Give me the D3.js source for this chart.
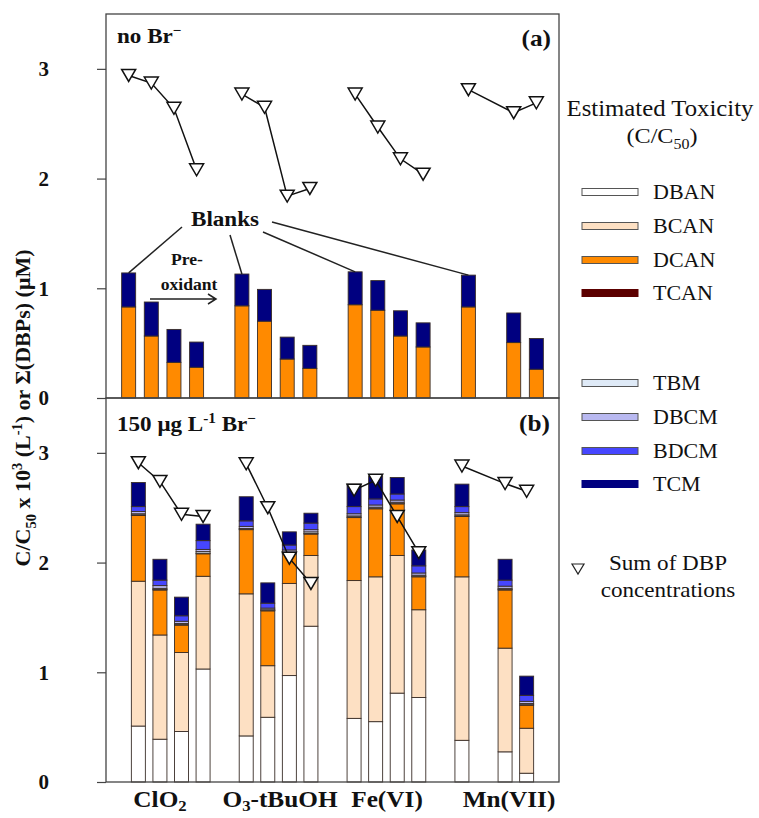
<!DOCTYPE html>
<html>
<head>
<meta charset="utf-8">
<script src="https://cdn.jsdelivr.net/npm/d3@7"></script>
<style>
  body { margin: 0; background: #fff; }
  text { font-family: "Liberation Serif", "Times New Roman", serif; fill: #111; }
</style>
</head>
<body>
<svg id="chart" width="759" height="818"></svg>
<script>
// ---- data ----
const groups = ["ClO2", "O3-tBuOH", "Fe(VI)", "Mn(VII)"];
// slot of each bar along the x axis (4 per group, one empty slot between groups;
// Mn(VII) has no second sample)
const slots = [0, 1, 2, 3, 5, 6, 7, 8, 10, 11, 12, 13, 15, 17, 18];
const blankIdx = [0, 4, 8, 12];

const species = ["DBAN", "BCAN", "DCAN", "TCAN", "TBM", "DBCM", "BDCM", "TCM"];
const speciesColor = ["#ffffff", "#fde0c3", "#ff8a00", "#5c0000", "#dfeaf7", "#b9b9f1", "#4646ff", "#000080"];

// (a) no Br-
const aDCAN = [0.83, 0.565, 0.325, 0.28, 0.84, 0.70, 0.355, 0.27, 0.85, 0.80, 0.565, 0.465, 0.83, 0.505, 0.262];
const aTCM  = [0.31, 0.31, 0.30, 0.23, 0.29, 0.29, 0.20, 0.21, 0.30, 0.27, 0.23, 0.22, 0.29, 0.27, 0.28];
const aSum  = [2.94, 2.87, 2.64, 2.08, 2.77, 2.65, 1.84, 1.91, 2.77, 2.47, 2.18, 2.04, 2.81, 2.60, 2.69];

// (b) 150 ug/L Br-
const bDBAN = [0.51, 0.39, 0.46, 1.03, 0.42, 0.59, 0.97, 1.42, 0.58, 0.55, 0.81, 0.77, 0.38, 0.275, 0.08];
const bBCAN = [1.32, 0.95, 0.72, 0.845, 1.295, 0.47, 0.84, 0.645, 1.256, 1.32, 1.255, 0.80, 1.49, 0.945, 0.41];
const bDCAN = [0.60, 0.41, 0.25, 0.205, 0.585, 0.50, 0.27, 0.195, 0.574, 0.62, 0.47, 0.30, 0.55, 0.53, 0.21];
const bTCAN = [0.005, 0.005, 0.005, 0.005, 0.005, 0.005, 0.005, 0.005, 0.005, 0.005, 0.005, 0.005, 0.005, 0.005, 0.005];
const bTBM  = [0.01, 0.01, 0.01, 0.015, 0.005, 0.005, 0.01, 0.015, 0.01, 0.01, 0.01, 0.01, 0.01, 0.01, 0.01];
const bDBCM = [0.02, 0.025, 0.02, 0.02, 0.02, 0.015, 0.02, 0.02, 0.02, 0.02, 0.02, 0.02, 0.02, 0.02, 0.02];
const bBDCM = [0.045, 0.05, 0.05, 0.08, 0.05, 0.045, 0.045, 0.06, 0.065, 0.055, 0.055, 0.065, 0.055, 0.055, 0.055];
const bTCM  = [0.22, 0.19, 0.17, 0.15, 0.22, 0.185, 0.12, 0.09, 0.205, 0.21, 0.15, 0.145, 0.205, 0.19, 0.175];
const bSum  = [2.91, 2.74, 2.44, 2.42, 2.90, 2.50, 2.04, 1.81, 2.66, 2.75, 2.42, 2.09, 2.88, 2.72, 2.65];

const yTicks = [0, 1, 2, 3];

// ---- layout ----
const svg = d3.select("#chart");
const left = 106, right = 559;
const STRETCH = 1.1;

const xA = d3.scaleLinear().domain([-1, 19]).range([left, right]);
const xB = d3.scaleLinear().domain([-1.5, 19.5]).range([left, right]);
const yA = d3.scaleLinear().domain([0, 3.5]).range([398, 14]);
const yB = d3.scaleLinear().domain([0, 3.5]).range([782, 398]);
const barW = 14;

// text helper: parts = [{t, sup, sub}]
function rich(parent, x, y, parts, size, opts = {}) {
  const t = parent.append("text")
    .attr("transform", `translate(${x},${y}) scale(${opts.stretch || STRETCH},1)`)
    .attr("text-anchor", opts.anchor || "start")
    .attr("font-size", size)
    .attr("font-weight", opts.bold ? "bold" : "normal");
  let shift = 0;
  parts.forEach(p => {
    const target = p.sup ? -0.38 * size : p.sub ? (opts.subDrop || 0.25) * size : 0;
    const ts = t.append("tspan").text(p.t).attr("dy", target - shift);
    if (p.sup || p.sub) ts.attr("font-size", size * 0.66);
    shift = target;
  });
  return t;
}

function tri(cx, cy, w = 7, h = 6) {
  return `M${cx - w},${cy - h}L${cx + w},${cy - h}L${cx},${cy + h}Z`;
}

function drawPanel(x, y, rows, keys, colors, sums) {
  const g = svg.append("g");
  const stack = d3.stack().keys(keys)(rows);

  stack.forEach((layer, li) => {
    g.append("g").selectAll("rect").data(layer).join("rect")
      .attr("x", (d, i) => x(slots[i]) - barW / 2)
      .attr("width", barW)
      .attr("y", d => y(d[1]))
      .attr("height", d => Math.max(0, y(d[0]) - y(d[1])))
      .attr("fill", colors[li])
      .attr("stroke", "#3a2e28")
      .attr("stroke-width", 0.9);
  });

  // sum of DBP concentrations, joined within each oxidant
  const line = d3.line().x(d => x(d.s)).y(d => y(d.v));
  const pts = sums.map((v, i) => ({ s: slots[i], v, grp: Math.floor(slots[i] / 5) }));
  d3.groups(pts, d => d.grp).forEach(([, arr]) => {
    g.append("path").attr("d", line(arr))
      .attr("fill", "none").attr("stroke", "#111").attr("stroke-width", 1.5);
  });
  g.selectAll("path.tri").data(pts).join("path")
    .attr("class", "tri")
    .attr("d", d => tri(x(d.s), y(d.v)))
    .attr("fill", "#fff").attr("stroke", "#111").attr("stroke-width", 1.5);

  // frame + axis
  g.append("rect")
    .attr("x", left).attr("y", y.range()[1])
    .attr("width", right - left).attr("height", y.range()[0] - y.range()[1])
    .attr("fill", "none").attr("stroke", "#444").attr("stroke-width", 1.3);
  const ax = g.append("g").attr("transform", `translate(${left},0)`)
    .call(d3.axisLeft(y).tickValues(yTicks).tickFormat(d3.format("d")).tickSize(9).tickPadding(48));
  ax.select(".domain").remove();
  ax.selectAll("line").attr("stroke", "#444").attr("stroke-width", 1.2);
  ax.selectAll("text")
    .attr("font-size", 21).attr("font-weight", "bold")
    .attr("font-family", "Liberation Serif, serif").attr("fill", "#111");
  return g;
}

// panel (a)
const rowsA = aDCAN.map((v, i) => ({ DCAN: v, TCM: aTCM[i] }));
drawPanel(xA, yA, rowsA, ["DCAN", "TCM"], [speciesColor[2], speciesColor[7]], aSum);

// panel (b)
const rowsB = bDBAN.map((v, i) => ({
  DBAN: v, BCAN: bBCAN[i], DCAN: bDCAN[i], TCAN: bTCAN[i],
  TBM: bTBM[i], DBCM: bDBCM[i], BDCM: bBDCM[i], TCM: bTCM[i]
}));
drawPanel(xB, yB, rowsB, species, speciesColor, bSum);

// ---- annotations ----
rich(svg, 117, 43, [{ t: "no Br" }, { t: "\u2212", sup: true }], 21, { bold: true });
rich(svg, 551, 46, [{ t: "(a)" }], 23, { bold: true, anchor: "end" });
rich(svg, 117, 431, [{ t: "150 \u03bcg L" }, { t: "-1", sup: true }, { t: " Br" }, { t: "\u2212", sup: true }], 21, { bold: true });
rich(svg, 550, 431, [{ t: "(b)" }], 23, { bold: true, anchor: "end" });

// Blanks callout
rich(svg, 191, 226, [{ t: "Blanks" }], 21, { bold: true });
const blankStarts = [[182, 227], [230, 235], [263, 232], [272, 222]];
blankIdx.forEach((bi, k) => {
  const total = aDCAN[bi] + aTCM[bi];
  svg.append("line")
    .attr("x1", blankStarts[k][0]).attr("y1", blankStarts[k][1])
    .attr("x2", xA(slots[bi])).attr("y2", yA(total))
    .attr("stroke", "#222").attr("stroke-width", 1.5);
});

// Pre-oxidant arrow
rich(svg, 187, 265, [{ t: "Pre-" }], 16, { bold: true, anchor: "middle" });
rich(svg, 189, 290, [{ t: "oxidant" }], 16, { bold: true, anchor: "middle" });
svg.append("path")
  .attr("d", "M150,299H216M208,294L216,299L208,304")
  .attr("fill", "none").attr("stroke", "#222").attr("stroke-width", 1.5);

// x labels
const xLabelParts = [
  [{ t: "ClO" }, { t: "2", sub: true }],
  [{ t: "O" }, { t: "3", sub: true }, { t: "-tBuOH" }],
  [{ t: "Fe(VI)" }],
  [{ t: "Mn(VII)" }]
];
const xLabelPos = [160, 280, 387, 509];
groups.forEach((gname, i) => {
  rich(svg, xLabelPos[i], 807, xLabelParts[i], 23, { bold: true, anchor: "middle", subDrop: 0.16 });
});

// y title
const yt = svg.append("text")
  .attr("transform", "translate(30,408) rotate(-90)")
  .attr("text-anchor", "middle").attr("font-size", 22).attr("font-weight", "bold");
(function () {
  const size = 22;
  const parts = [{ t: "C/C" }, { t: "50", sub: true }, { t: " x 10" }, { t: "3", sup: true },
    { t: " (L" }, { t: "-1", sup: true }, { t: ") or \u03a3(DBPs) (\u03bcM)" }];
  let shift = 0;
  parts.forEach(p => {
    const target = p.sup ? -0.38 * size : p.sub ? 0.25 * size : 0;
    const ts = yt.append("tspan").text(p.t).attr("dy", target - shift);
    if (p.sup || p.sub) ts.attr("font-size", size * 0.66);
    shift = target;
  });
})();

// ---- legend ----
rich(svg, 660, 116, [{ t: "Estimated Toxicity" }], 22.5, { anchor: "middle" });
rich(svg, 662, 143, [{ t: "(C/C" }, { t: "50", sub: true }, { t: ")" }], 22, { anchor: "middle" });

const legendY = [192, 226, 260, 293, 383, 417, 451, 484];
species.forEach((s, i) => {
  svg.append("rect")
    .attr("x", 582).attr("y", legendY[i] - 3.5)
    .attr("width", 56).attr("height", 7)
    .attr("fill", speciesColor[i])
    .attr("stroke", i === 3 || i === 7 ? speciesColor[i] : "#555").attr("stroke-width", 1);
  rich(svg, 653, legendY[i] + 7, [{ t: s }], 20);
});
svg.append("path").attr("d", tri(578, 569, 6, 5))
  .attr("fill", "#fff").attr("stroke", "#222").attr("stroke-width", 1.2);
rich(svg, 668, 570, [{ t: "Sum of DBP" }], 21, { anchor: "middle" });
rich(svg, 668, 597, [{ t: "concentrations" }], 21, { anchor: "middle" });
</script>
</body>
</html>
